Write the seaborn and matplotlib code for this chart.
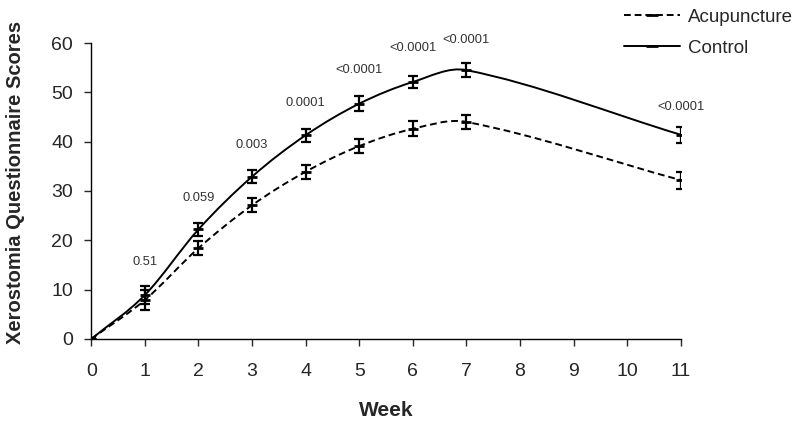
import numpy as np
import pandas as pd
import matplotlib
matplotlib.use("Agg")
import matplotlib.pyplot as plt
import seaborn as sns
from matplotlib.path import Path
from matplotlib.patches import PathPatch
from matplotlib.lines import Line2D

weeks = [0, 1, 2, 3, 4, 5, 6, 7, 11]
control = [0, 8.9, 22.2, 32.9, 41.3, 47.7, 52.1, 54.5, 41.4]
control_err = [0.3, 1.8, 1.3, 1.3, 1.3, 1.5, 1.3, 1.35, 1.6]
acup = [0, 7.9, 18.4, 27.1, 33.9, 39.1, 42.6, 44.0, 32.2]
acup_err = [0.3, 2.0, 1.4, 1.4, 1.4, 1.4, 1.5, 1.4, 1.7]
pvalues = ["0.51", "0.059", "0.003", "0.0001", "<0.0001", "<0.0001", "<0.0001", "<0.0001"]
p_y = [15.6, 28.5, 39.3, 47.8, 54.5, 59.0, 60.6, 47.0]
xticks = list(range(0, 12))

sns.set_style("white")
plt.rcParams['font.family'] = ['Liberation Sans', 'DejaVu Sans']

fig = plt.figure(figsize=(8, 4.25), dpi=100)
ax = fig.add_axes([0.114, 0.2024, 0.737, 0.6964])

df = pd.DataFrame({
    "Week": weeks * 2,
    "Score": control + acup,
    "Group": ["Control"] * len(weeks) + ["Acupuncture"] * len(weeks),
})


def smooth_path(xs, ys):
    # smoothed line rendering (Bezier through the data points)
    pts = np.column_stack([xs, ys]).astype(float)
    n = len(pts)
    verts = [pts[0]]
    codes = [Path.MOVETO]
    for i in range(n - 1):
        p1 = pts[i]
        p2 = pts[i + 1]
        d = p2[0] - p1[0]
        if i > 0:
            p0 = pts[i - 1]
            t1 = (p2 - p0) * d / (p2[0] - p0[0])
        else:
            t1 = p2 - p1
        if i + 2 < n:
            p3 = pts[i + 2]
            t2 = (p3 - p1) * d / (p3[0] - p1[0])
        else:
            t2 = p2 - p1
        c1 = p1 + t1 / 3.0
        c2 = p2 - t2 / 3.0
        verts += [c1, c2, p2]
        codes += [Path.CURVE4] * 3
    return Path(verts, codes)


for vals, err, ls in [(control, control_err, "-"), (acup, acup_err, (0, (3.5, 2)))]:
    patch = PathPatch(smooth_path(weeks, vals), facecolor="none", edgecolor="black",
                      linewidth=1.4, linestyle=ls)
    ax.add_patch(patch)
    ax.errorbar(weeks, vals, yerr=err, fmt="none", ecolor="black", elinewidth=1.6,
                capsize=3.5, capthick=1.6)

sns.scatterplot(data=df, x="Week", y="Score", marker="_", color="black", s=60,
                linewidth=2, ax=ax, legend=False)

for x, y, t in zip(weeks[1:], p_y, pvalues):
    ax.text(x, y, t, ha="center", va="center", fontsize=9.3, color="#333333")

ax.set_xlim(0, 11)
ax.set_ylim(0, 60)
ax.set_xticks(xticks)
ax.set_yticks(range(0, 61, 10))
ax.tick_params(axis="x", direction="out", length=5, width=1, pad=12, labelsize=14)
ax.tick_params(axis="y", direction="out", length=5, width=1, pad=8, labelsize=14)
ax.tick_params(bottom=True, left=True)
for s in ["top", "right"]:
    ax.spines[s].set_visible(False)
for s in ["left", "bottom"]:
    ax.spines[s].set_color("black")
    ax.spines[s].set_linewidth(1)

ax.set_xlabel("Week", fontsize=15, fontweight="bold", va="center")
ax.set_ylabel("Xerostomia Questionnaire Scores", fontsize=14.5, fontweight="bold", va="center")
ax.xaxis.set_label_coords(0.5, -0.243)
ax.yaxis.set_label_coords(-0.129, 0.53)

handles = [
    Line2D([], [], color="black", linestyle=(0, (3.5, 2)), linewidth=1.4, marker="_", markersize=8, markeredgewidth=2),
    Line2D([], [], color="black", linestyle="-", linewidth=1.4, marker="_", markersize=8, markeredgewidth=2),
]
leg = fig.legend(handles, ["Acupuncture", "Control"], loc="upper right",
                 bbox_to_anchor=(1.012, 1.02), frameon=False, fontsize=13.5,
                 handlelength=3, labelspacing=0.75, handletextpad=0.4)

fig.savefig("out.png", dpi=100)
